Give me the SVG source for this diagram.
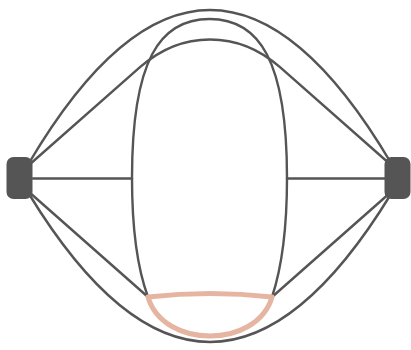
<svg xmlns="http://www.w3.org/2000/svg" width="411" height="350" viewBox="0 0 411 350">
  <style>
    .edge { fill: none; stroke: #555555; stroke-width: 2.4; stroke-linecap: round; stroke-linejoin: round; }
    .hl { fill: none; stroke: #e5b5a2; stroke-width: 5; stroke-linejoin: round; }
    .node { fill: #555555; }
  </style>
  <rect width="411" height="350" fill="#ffffff"/>
  <g id="connectors">
    <path class="edge" d="M29,163 Q210,-143 391,163"/>
    <path class="edge" d="M29,194 Q210,490 391,194"/>
    <path class="edge" d="M29,165 L140,67.2 C182,30.2 238,30.2 280,67.2 L391,165"/>
    <path class="edge" d="M29,192 L148,297"/>
    <path class="edge" d="M391,192 L272,297"/>
    <path class="edge" d="M33,178.5 L132,178.5"/>
    <path class="edge" d="M287,178.5 L386,178.5"/>
    <path class="edge" d="M148,297 C138,270 132,230 132,178 C132,60 160,19 209.5,19 C259,19 287,60 287,178 C287,230 281,270 272,297"/>
    <path class="hl" d="M148,297 Q210,290 272,297 C257,349 163,349 148,297 Z"/>
  </g>
  <g id="node-left">
    <rect class="node" x="6.5" y="157" width="26" height="42" rx="7"/>
  </g>
  <g id="node-right">
    <rect class="node" x="384.5" y="157" width="26" height="42" rx="7"/>
  </g>
</svg>
